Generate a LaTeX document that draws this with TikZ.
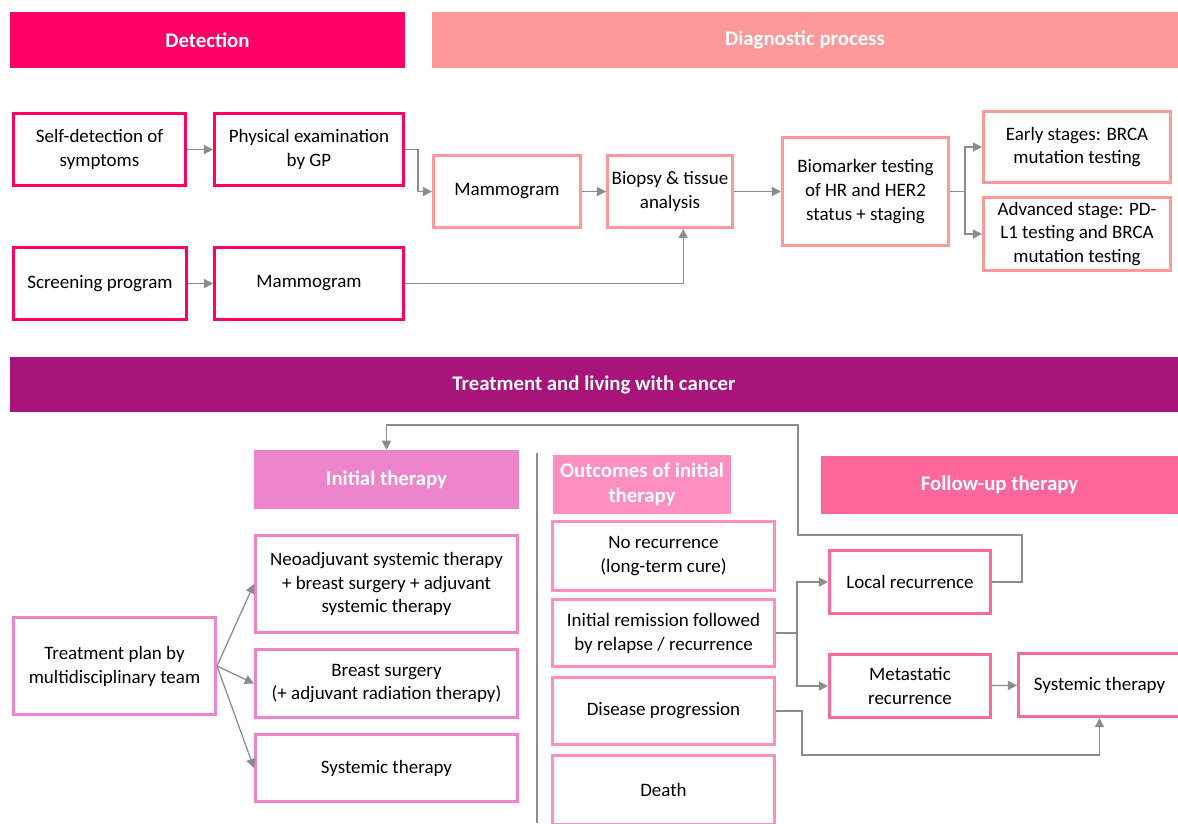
\documentclass[tikz,border=0pt]{standalone}
\usepackage{fontspec}
\setmainfont{Carlito}
\usetikzlibrary{arrows.meta}

\definecolor{detectpink}{RGB}{255,0,102}
\definecolor{diagsalmon}{RGB}{255,153,153}
\definecolor{treatpurple}{RGB}{168,20,122}
\definecolor{initpink}{RGB}{238,132,203}
\definecolor{outcomepink}{RGB}{255,143,192}
\definecolor{followpink}{RGB}{255,102,153}
\definecolor{flowgray}{RGB}{140,140,140}

\begin{document}
\begin{tikzpicture}[x=0.025cm,y=-0.025cm,
        every node/.style={font=\fontsize{13.5pt}{17pt}\selectfont, align=center, inner sep=0pt},
        banner/.style={fill=#1, text=white, font=\fontsize{14.8pt}{17.5pt}\selectfont\bfseries},
        stepbox/.style={draw=#1, line width=2.4pt, fill=white},
        flow/.style={-{Triangle[length=6.5pt,width=6.5pt]}, draw=flowgray, line width=0.9pt}]
            \useasboundingbox (0,0) rectangle (1178,823);

            \node[banner=detectpink, minimum width=9.875cm, minimum height=1.4cm] (Detection) at (207.5,40) {Detection};
            \node[banner=diagsalmon, minimum width=18.65cm, minimum height=1.4cm] (Diagnostic) at (805,40) {Diagnostic process};

            \node[stepbox=detectpink, minimum width=4.29cm, minimum height=1.79cm] (SelfDetect) at (99.5,149.5) {Self-detection of\\symptoms};
            \node[stepbox=detectpink, minimum width=4.715cm, minimum height=1.79cm] (PhysExam) at (309,149.5) {Physical examination\\by GP};
            \node[stepbox=detectpink, minimum width=4.315cm, minimum height=1.79cm] (ScreenProg) at (100,283.5) {Screening program};
            \node[stepbox=detectpink, minimum width=4.715cm, minimum height=1.79cm] (ScreenMammo) at (309,283.5) {Mammogram};

            \node[stepbox=diagsalmon, minimum width=3.665cm, minimum height=1.79cm] (DiagMammo) at (507,191.5) {Mammogram};
            \node[stepbox=diagsalmon, minimum width=3.115cm, minimum height=1.79cm] (Biopsy) at (670,191.5) {Biopsy \& tissue\\analysis};
            \node[stepbox=diagsalmon, minimum width=4.14cm, minimum height=2.69cm] (Biomarker) at (865.5,191.5) {Biomarker testing\\of HR and HER2\\status + staging};
            \node[stepbox=diagsalmon, minimum width=4.665cm, minimum height=1.765cm] (EarlyStage) at (1077,147) {Early stages: BRCA\\mutation testing};
            \node[stepbox=diagsalmon, minimum width=4.665cm, minimum height=1.815cm] (AdvStage) at (1077,234) {Advanced stage: PD-\\L1 testing and BRCA\\mutation testing};

            \node[banner=treatpurple, minimum width=29.2cm, minimum height=1.375cm] (Treatment) at (594,384.5) {Treatment and living with cancer};

            \node[banner=initpink, minimum width=6.625cm, minimum height=1.475cm] (InitHead) at (386.5,479.5) {Initial therapy};
            \node[banner=outcomepink, minimum width=4.45cm, minimum height=1.475cm] (OutcomeHead) at (642,484.5) {Outcomes of initial\\therapy};
            \node[banner=followpink, minimum width=8.925cm, minimum height=1.45cm] (FollowHead) at (999.5,485) {Follow-up therapy};

            \node[stepbox=initpink, minimum width=5.04cm, minimum height=2.415cm] (TreatPlan) at (114.5,666) {Treatment plan by\\multidisciplinary team};
            \node[stepbox=initpink, minimum width=6.54cm, minimum height=2.415cm] (Neoadjuvant) at (386.5,584) {Neoadjuvant systemic therapy\\+ breast surgery + adjuvant\\systemic therapy};
            \node[stepbox=initpink, minimum width=6.54cm, minimum height=1.69cm] (Surgery) at (386.5,683.5) {Breast surgery\\(+ adjuvant radiation therapy)};
            \node[stepbox=initpink, minimum width=6.54cm, minimum height=1.665cm] (InitSystemic) at (386.5,768) {Systemic therapy};

            \node[stepbox=outcomepink, minimum width=5.54cm, minimum height=1.715cm] (NoRecurrence) at (663.5,556) {No recurrence\\(long-term cure)};
            \node[stepbox=outcomepink, minimum width=5.54cm, minimum height=1.665cm] (Remission) at (663.5,633) {Initial remission followed\\by relapse / recurrence};
            \node[stepbox=outcomepink, minimum width=5.54cm, minimum height=1.665cm] (Progression) at (663.5,711) {Disease progression};
            \node[stepbox=outcomepink, minimum width=5.54cm, minimum height=1.715cm] (Death) at (663.5,790) {Death};

            \node[stepbox=followpink, minimum width=4.015cm, minimum height=1.565cm] (LocalRec) at (910,582) {Local recurrence};
            \node[stepbox=followpink, minimum width=4.015cm, minimum height=1.565cm] (MetaRec) at (910,686) {Metastatic\\recurrence};
            \node[stepbox=followpink, minimum width=4.04cm, minimum height=1.565cm] (FollowSystemic) at (1099.5,685) {Systemic therapy};

            \draw[flowgray, line width=0.8pt] (537,453) -- (537,823);

            \draw[flow] (SelfDetect) to (PhysExam);
            \draw[flow] (PhysExam.east) -- ++(13,0) |- (DiagMammo.west);
            \draw[flow] (ScreenProg) to (ScreenMammo);
            \draw[flow] (ScreenMammo.east) -| ([xshift=3.3mm]Biopsy.south);
            \draw[flow] (DiagMammo) to (Biopsy);
            \draw[flow] (Biopsy) to (Biomarker);
            \draw[flow] (Biomarker.east) -- ++(15,0) |- (EarlyStage.west);
            \draw[flow] (Biomarker.east) -- ++(15,0) |- (AdvStage.west);

            \draw[flow] (TreatPlan.east) to (Neoadjuvant.west);
            \draw[flow] (TreatPlan.east) to (Surgery.west);
            \draw[flow] (TreatPlan.east) to (InitSystemic.west);

            \draw[flow] (Remission.east) -- ++(21,0) |- (LocalRec.west);
            \draw[flow] (Remission.east) -- ++(21,0) |- (MetaRec.west);
            \draw[flow] (MetaRec) to (FollowSystemic);
            \draw[flow] (Progression.east) -- ++(26,0) -- ++(0,44) -| (FollowSystemic.south);
            \draw[flow] (LocalRec.east) -- ++(30,0) |- (798,535) -- (798,425) -| (InitHead.north);
        \end{tikzpicture}
\end{document}
